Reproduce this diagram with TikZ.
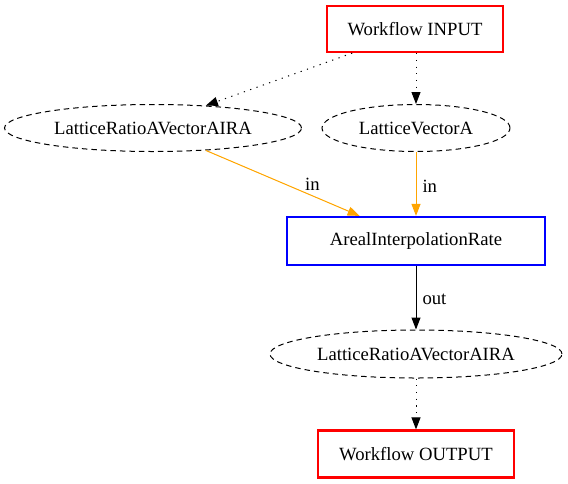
\documentclass[tikz,border=0pt]{standalone}
\usepackage{fontspec}
\setmainfont{Liberation Serif}
\usetikzlibrary{shapes.geometric,arrows.meta}

\definecolor{gvorange}{RGB}{255,165,0}

\tikzset{
  wfbox/.style={draw=red,line width=2.2pt,minimum width=176pt,minimum height=46pt,inner sep=0pt},
  procbox/.style={draw=blue,line width=2.2pt,minimum width=258pt,minimum height=48pt,inner sep=0pt},
  dataell/.style={ellipse,draw,dash pattern=on 5.5pt off 4pt,inner sep=0pt},
  tip/.style={-{Triangle[length=12pt,width=9pt]}},
  dotedge/.style={tip,dash pattern=on 1.2pt off 5.5pt},
  inedge/.style={tip,draw=gvorange,fill=gvorange},
  lbl/.style={inner sep=0pt,anchor=west}
}

\begin{document}
\begin{tikzpicture}[x=1pt,y=-1pt,font=\fontsize{18.67}{21}\selectfont,line width=1pt]
  \useasboundingbox (0,0) rectangle (568,483);
  % nodes
  \node[wfbox] (input) at (415,29) {Workflow INPUT};
  \node[dataell,minimum width=297pt,minimum height=47pt] (ratioA) at (153,128) {LatticeRatioAVectorAIRA};
  \node[dataell,minimum width=188pt,minimum height=47pt] (vecA) at (416,128) {LatticeVectorA};
  \node[procbox] (rate) at (416,241) {ArealInterpolationRate};
  \node[dataell,minimum width=292pt,minimum height=48pt] (ratioB) at (416,354) {LatticeRatioAVectorAIRA};
  \node[wfbox,minimum width=196pt,minimum height=47pt] (output) at (416,454) {Workflow OUTPUT};
  % edges
  \draw[dotedge] (input.201) -- (ratioA.23);
  \draw[dotedge] (input.south -| vecA.north) -- (vecA.north);
  \draw[inedge] (ratioA.337) -- (rate.156) node[lbl,pos=0.5,xshift=22pt,yshift=-1pt] {in};
  \draw[inedge] (vecA.south) -- (rate.north) node[lbl,pos=0.5,xshift=6pt,yshift=-2pt] {in};
  \draw[tip,fill=black] (rate.south) -- (ratioB.north) node[lbl,pos=0.5,xshift=6pt,yshift=-2pt] {out};
  \draw[dotedge] (ratioB.south) -- (ratioB.south |- output.north);
\end{tikzpicture}
\end{document}
